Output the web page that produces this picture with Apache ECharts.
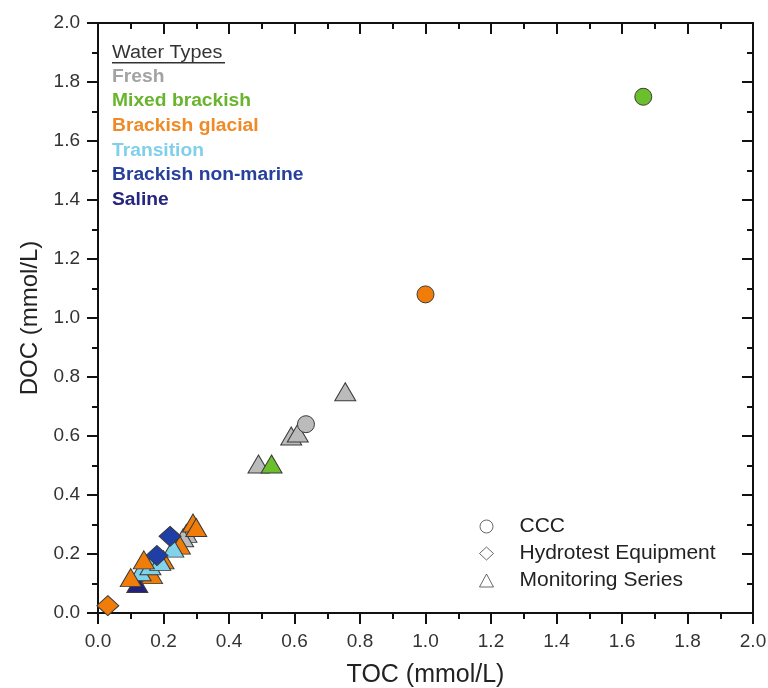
<!DOCTYPE html>
<html><head><meta charset="utf-8">
<script src="https://cdn.jsdelivr.net/npm/echarts@6/dist/echarts.min.js"></script>
<style>html,body{margin:0;padding:0;background:#fff}#c{width:768px;height:688px}</style>
</head><body><div id="c"></div>
<script>
// Water types and their colours
const waterTypes = ["Fresh","Mixed brackish","Brackish glacial","Transition","Brackish non-marine","Saline"];
const typeColors = ["#bbbbbb","#6cbf2c","#f07d0a","#80d3ea","#1f3fa6","#22227c"];
const legendTextColors = ["#a3a3a3","#6ab42d","#ef8a26","#80d0ea","#27409c","#262680"];
const sampleTypes = ["CCC","Hydrotest Equipment","Monitoring Series"];

// [TOC, DOC] in mmol/L
const freshCCC = [[0.635,0.64]];
const freshMonitoring = [[0.755,0.75],[0.59,0.60],[0.61,0.61],[0.49,0.505],[0.27,0.27],[0.26,0.255]];
const mixedCCC = [[1.665,1.75]];
const mixedMonitoring = [[0.53,0.505]];
const glacialCCC = [[1.0,1.08]];
const glacialHydrotest = [[0.03,0.025]];
const glacialMonitoring = [[0.165,0.13],[0.20,0.18],[0.25,0.23],[0.10,0.12],[0.14,0.18],[0.29,0.305],[0.30,0.29]];
const transitionMonitoring = [[0.13,0.14],[0.16,0.16],[0.19,0.175],[0.23,0.22]];
const nonMarineHydrotest = [[0.22,0.26],[0.18,0.195]];
const salineMonitoring = [[0.12,0.10]];

const FONT = 'Liberation Sans, Arial';
const chart = echarts.init(document.getElementById('c'));
const sizes = {circle:17, diamond:[22,20], triangle:[21,18]};
function mk(data, typeIdx, shape){
  return {type:'scatter', data:data, symbol:shape, symbolSize:sizes[shape],
    xAxisIndex:0, yAxisIndex:0, silent:true,
    itemStyle:{color:typeColors[typeIdx], borderColor:'#3a3a3a', borderWidth:1, opacity:1}};
}
const series = [
  mk(freshMonitoring,0,'triangle'),
  mk(freshCCC,0,'circle'),
  mk(mixedMonitoring,1,'triangle'),
  mk(mixedCCC,1,'circle'),
  mk(glacialCCC,2,'circle'),
  mk(glacialHydrotest,2,'diamond'),
  mk(salineMonitoring,5,'triangle'),
  mk(glacialMonitoring.slice(0,3),2,'triangle'),
  mk(transitionMonitoring,3,'triangle'),
  mk(nonMarineHydrotest,4,'diamond'),
  mk(glacialMonitoring.slice(3),2,'triangle')
];
sampleTypes.forEach(n=>series.push({type:'scatter',name:n,data:[],symbol:'circle',itemStyle:{color:'#fff'}}));

const axisCommon = {min:0,max:2,interval:0.2,
  axisLine:{onZero:false,lineStyle:{color:'#111',width:2}},
  splitLine:{show:false}};
const lbl = {color:'#333',fontSize:19,fontFamily:FONT};
const outTick = {show:true,inside:false,length:11,lineStyle:{color:'#111',width:2}};
const outMinor = {show:true,splitNumber:2,length:6,lineStyle:{color:'#111',width:2}};
const inTick = {show:true,inside:true,length:11,lineStyle:{color:'#111',width:2}};

const legendGraphics = [
  {type:'text',x:112,y:53,scaleX:1.1,style:{text:'Water Types',x:0,y:0,verticalAlign:'middle',fontSize:18,fontFamily:FONT,fill:'#333'}},
  {type:'rect',shape:{x:112,y:62,width:113,height:1.5},style:{fill:'#333'}}];
waterTypes.forEach((t,i)=>legendGraphics.push({type:'text',x:112,y:77+i*24.6,scaleX:1.1,
  style:{text:t,x:0,y:0,verticalAlign:'middle',fontSize:17.5,fontWeight:'bold',fontFamily:FONT,fill:legendTextColors[i]}}));

chart.setOption({
  animation:false,
  grid:{left:98,right:15,top:23,bottom:75,containLabel:false,outerBoundsMode:'none'},
  xAxis:[
    Object.assign({},axisCommon,{position:'bottom',name:'TOC (mmol/L)',nameLocation:'middle',nameGap:50,
      nameTextStyle:{fontSize:25,color:'#222',fontFamily:FONT},
      axisTick:outTick, minorTick:outMinor,
      axisLabel:Object.assign({margin:19,formatter:v=>v.toFixed(1)},lbl)}),
    Object.assign({},axisCommon,{position:'top',
      axisTick:inTick, minorTick:outMinor,
      axisLabel:{show:false}})
  ],
  yAxis:[
    Object.assign({},axisCommon,{position:'left',name:'DOC (mmol/L)',nameLocation:'middle',nameGap:55,
      nameTextStyle:{fontSize:24,color:'#222',fontFamily:FONT},
      axisTick:outTick, minorTick:outMinor,
      axisLabel:Object.assign({margin:18,formatter:v=>v.toFixed(1)},lbl)}),
    Object.assign({},axisCommon,{position:'right',
      axisTick:inTick, minorTick:outMinor,
      axisLabel:{show:false}})
  ],
  legend:{orient:'vertical',left:474,top:511,itemGap:6,itemWidth:14,itemHeight:13,
    textStyle:{fontSize:21,lineHeight:21,color:'#222',fontFamily:FONT,padding:[0,0,0,21]},
    data:[
      {name:'CCC',icon:'circle',itemStyle:{color:'#fff',borderColor:'#444',borderWidth:1}},
      {name:'Hydrotest Equipment',icon:'diamond',itemStyle:{color:'#fff',borderColor:'#444',borderWidth:1}},
      {name:'Monitoring Series',icon:'triangle',itemStyle:{color:'#fff',borderColor:'#444',borderWidth:1}}
    ]},
  graphic:legendGraphics,
  series:series
});
</script></body></html>
